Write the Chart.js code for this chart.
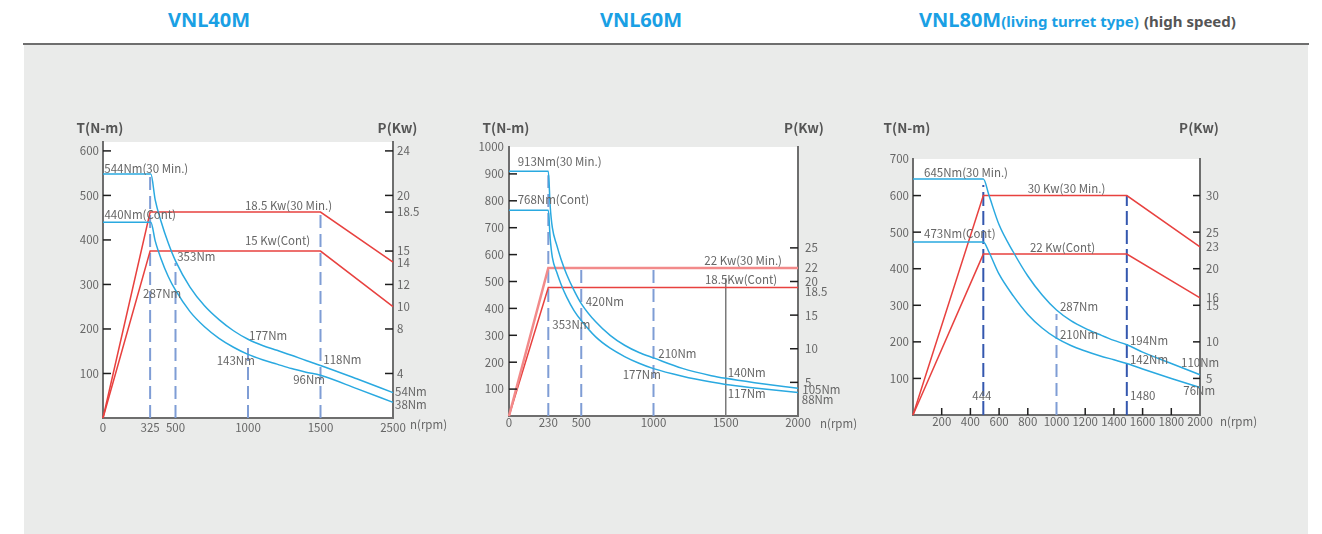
<!DOCTYPE html>
<html><head><meta charset="utf-8">
<script src="https://cdn.jsdelivr.net/npm/chart.js@4.4.1/dist/chart.umd.min.js"></script>
<style>
html,body{margin:0;padding:0;background:#fff;}
body{width:1322px;height:534px;position:relative;overflow:hidden;font-family:"Noto Sans",sans-serif;}
.panel{position:absolute;left:24px;top:45px;width:1284px;height:489px;background:#eaebea;}
.rule{position:absolute;left:23px;top:43px;width:1286px;height:2px;background:#6e6e6e;}
.title{position:absolute;top:6px;font-weight:700;font-size:20px;color:#1aa0e4;white-space:nowrap;line-height:28px;}
.title small{font-size:15px;}
.title .g{color:#555;}
canvas{position:absolute;}
</style></head>
<body>
<div class="rule"></div><div class="panel"></div>
<div class="title" style="left:109px;width:200px;text-align:center">VNL40M</div>
<div class="title" style="left:541px;width:200px;text-align:center">VNL60M</div>
<div class="title" style="left:919px">VNL80M<small>(living turret type)</small> <small class="g">(high speed)</small></div>
<canvas id="c40" width="420" height="330" style="left:40px;top:110px;width:420px;height:330px"></canvas>
<canvas id="c60" width="420" height="330" style="left:450px;top:110px;width:420px;height:330px"></canvas>
<canvas id="c80" width="420" height="330" style="left:860px;top:110px;width:420px;height:330px"></canvas>
<script>
// ================= DATA =================
const axisTitles = ['T(N-m)', 'P(Kw)', 'n(rpm)'];

// ---------- VNL40M ----------
const rpm40 = [0, 330, 360, 400, 450, 500, 600, 700, 800, 900, 1000, 1100, 1200, 1300, 1400, 1500, 1750, 2000];
const torqueMax40 = [548, 548, 490, 442, 393, 353, 294, 252, 221, 196, 177, 163, 152, 141, 129, 118, 88, 57];
const torqueCont40 = [440, 440, 398, 358, 318, 287, 239, 205, 179, 159, 143, 131, 121, 111, 103, 96, 66, 35];
const powerRpm40 = [0, 325, 1500, 2000];
const powerMax40 = [0, 18.5, 18.5, 14];
const powerCont40 = [0, 15, 15, 10];
const guideRpm40 = [325, 500, 1000, 1500];
const guideTop40 = [548, 348, 168, 462];
const xTicks40 = [0, 325, 500, 1000, 1500, 2000];
const xLabels40 = ['0', '325', '500', '1000', '1500', '2500'];
const yTicks40 = [100, 200, 300, 400, 500, 600];
const pTicks40 = [24, 20, 18.5, 15, 14, 12, 10, 8, 4];
const pMarked40 = [24, 20, 18.5, 15, 12, 8, 4];
const notes40 = [
  {text: '544Nm(30 Min.)', rpm: 9, nm: 561},
  {text: '440Nm(Cont)', rpm: 10, nm: 457},
  {text: '18.5 Kw(30 Min.)', rpm: 979, nm: 477},
  {text: '15 Kw(Cont)', rpm: 979, nm: 398},
  {text: '353Nm', rpm: 512, nm: 362},
  {text: '287Nm', rpm: 276, nm: 280},
  {text: '177Nm', rpm: 1007, nm: 186},
  {text: '143Nm', rpm: 784, nm: 130},
  {text: '118Nm', rpm: 1519, nm: 132},
  {text: '96Nm', rpm: 1312, nm: 87},
  {text: '54Nm', rpm: 2014, nm: 59},
  {text: '38Nm', rpm: 2014, nm: 31}
];

// ---------- VNL60M ----------
const rpm60 = [0, 272, 285, 300, 330, 360, 400, 450, 500, 600, 700, 800, 900, 1000, 1200, 1400, 1500, 1700, 2000];
const torqueMax60 = [910, 910, 780, 700, 636, 583, 525, 467, 418, 350, 300, 263, 236, 216, 177, 150, 140, 124, 103];
const torqueCont60 = [765, 765, 660, 590, 535, 490, 441, 392, 355, 294, 252, 221, 196, 176, 148, 126, 117, 104, 87];
const powerRpm60 = [0, 272, 2000];
const powerMax60 = [0, 22, 22];
const powerCont60 = [0, 19.1, 19.1];
const guideRpm60 = [272, 500, 1000, 1500];
const guideTop60 = [895, 549, 549, 512];
const xTicks60 = [0, 272, 500, 1000, 1500, 2000];
const xLabels60 = ['0', '230', '500', '1000', '1500', '2000'];
const yTicks60 = [100, 200, 300, 400, 500, 600, 700, 800, 900, 1000];
const yMarked60 = [100, 200, 300, 400, 500, 600, 700, 800, 900];
const pTicks60 = [25, 22, 20, 18.5, 15, 10, 5];
const pMarked60 = [25, 20, 15, 10, 5];
const notes60 = [
  {text: '913Nm(30 Min.)', rpm: 60, nm: 945},
  {text: '768Nm(Cont)', rpm: 60, nm: 803},
  {text: '22 Kw(30 Min.)', rpm: 1352, nm: 577},
  {text: '18.5Kw(Cont)', rpm: 1356, nm: 508},
  {text: '420Nm', rpm: 531, nm: 425},
  {text: '353Nm', rpm: 300, nm: 338},
  {text: '210Nm', rpm: 1033, nm: 233},
  {text: '177Nm', rpm: 787, nm: 155},
  {text: '140Nm', rpm: 1513, nm: 162},
  {text: '117Nm', rpm: 1513, nm: 84},
  {text: '105Nm', rpm: 2030, nm: 97},
  {text: '88Nm', rpm: 2026, nm: 62}
];

// ---------- VNL80M ----------
const rpm80 = [0, 490, 530, 600, 700, 800, 900, 1000, 1100, 1200, 1300, 1400, 1490, 1600, 1800, 2000];
const torqueMax80 = [645, 645, 600, 520, 445, 380, 328, 287, 258, 237, 220, 204, 192, 172, 141, 110];
const torqueCont80 = [473, 473, 445, 385, 325, 275, 238, 210, 190, 175, 162, 151, 141, 126, 100, 75];
const powerRpm80 = [0, 490, 1490, 2000];
const powerMax80 = [0, 30, 30, 23];
const powerCont80 = [0, 22, 22, 16];
const guideRpm80 = [490, 1000, 1490];
const guideTop80 = [629, 276, 600];
const xTicks80 = [200, 400, 600, 800, 1000, 1200, 1400, 1600, 1800, 2000];
const xLabels80 = ['200', '400', '600', '800', '1000', '1200', '1400', '1600', '1800', '2000'];
const xMarked80 = [200, 400, 600, 800, 1200, 1400, 1600, 1800];
const yTicks80 = [100, 200, 300, 400, 500, 600, 700];
const yMarked80 = [100, 200, 300, 400, 500, 600];
const pTicks80 = [30, 25, 23, 20, 16, 15, 10, 5];
const pMarked80 = [30, 25, 20, 15, 10, 5];
const notes80 = [
  {text: '645Nm(30 Min.)', rpm: 77, nm: 664},
  {text: '473Nm(Cont)', rpm: 77, nm: 497},
  {text: '30 Kw(30 Min.)', rpm: 799, nm: 618},
  {text: '22 Kw(Cont)', rpm: 815, nm: 459},
  {text: '287Nm', rpm: 1024, nm: 296},
  {text: '210Nm', rpm: 1024, nm: 221},
  {text: '194Nm', rpm: 1512, nm: 203},
  {text: '142Nm', rpm: 1512, nm: 152},
  {text: '110Nm', rpm: 1868, nm: 144},
  {text: '76Nm', rpm: 1884, nm: 68},
  {text: '444', rpm: 413, nm: 52},
  {text: '1480', rpm: 1512, nm: 52}
];

// ================= STYLE =================
const BLUE = '#2aa9e0', RED = '#e8413f', PINK = '#f28a8a';
const DASH = '#7f9dd5', DASH_DARK = '#3457ae', GUIDE_SOLID = '#7a7a7a';
const AXIS = '#6e6e6e', TXT = '#666666', MARK = '#1e1e1e', TITLE = '#555555';
const FONT = '"Noto Sans CJK SC", "Noto Sans", sans-serif';
const TICK_FONT = {family: FONT, size: 11.5};

function pts(xs, ys) { return xs.map((x, i) => ({x: x, y: ys[i]})); }

function lineSet(data, color, width, axis, smooth, dash) {
  return {
    data: data, borderColor: color, borderWidth: width, yAxisID: axis,
    pointRadius: 0, fill: false, clip: false,
    tension: 0, cubicInterpolationMode: smooth ? 'monotone' : 'default',
    borderDash: dash || []
  };
}

function build(spec) {
  const L = spec.layout;
  const datasets = [
    lineSet(pts(spec.rpm, spec.tMax), BLUE, 1.5, 'y', true),
    lineSet(pts(spec.rpm, spec.tCont), BLUE, 1.5, 'y', true),
    lineSet(pts(spec.pRpm, spec.pMax), L.pMaxColor || RED, L.pMaxWidth || 1.5, 'y2'),
    lineSet(pts(spec.pRpm, spec.pCont), RED, 1.5, 'y2')
  ];
  spec.gRpm.forEach((x, i) => {
    const st = L.guideStyles[i];
    datasets.push(lineSet(pts([x, x], [0, spec.gTop[i]]), st.color, st.width, 'y', false, st.dash));
  });

  const fixedTicks = vals => (s => { s.ticks = vals.map(v => ({value: v})); });

  const decor = {
    id: 'decor',
    beforeDraw(chart) {
      const {ctx, chartArea: a} = chart;
      ctx.save();
      ctx.fillStyle = '#ffffff';
      ctx.fillRect(a.left, a.top, a.right - a.left, a.bottom - a.top);
      ctx.restore();
    },
    afterDatasetsDraw(chart) {
      const {ctx, chartArea: a, scales} = chart;
      ctx.save();
      ctx.strokeStyle = MARK; ctx.lineWidth = 1.5;
      spec.marks.forEach(m => {
        const s = scales[m.axis];
        m.values.forEach(v => {
          const p = s.getPixelForValue(v);
          ctx.beginPath();
          if (m.axis === 'x') { ctx.moveTo(p, a.bottom); ctx.lineTo(p, a.bottom - m.len); }
          else if (m.axis === 'y') { ctx.moveTo(a.left, p); ctx.lineTo(a.left + m.len, p); }
          else { ctx.moveTo(a.right, p); ctx.lineTo(a.right - m.len, p); }
          ctx.stroke();
        });
      });
      ctx.fillStyle = TXT;
      ctx.font = '11.5px ' + FONT;
      ctx.textBaseline = 'middle';
      ctx.textAlign = 'left';
      spec.notes.forEach(n => {
        ctx.fillText(n.text, scales.x.getPixelForValue(n.rpm), scales.y.getPixelForValue(n.nm));
      });
      ctx.fillText(axisTitles[2], a.right + L.rpmDx, a.bottom + L.rpmDy);
      ctx.font = 'bold 13.5px ' + FONT;
      ctx.fillStyle = TITLE;
      ctx.textAlign = 'center';
      ctx.fillText(axisTitles[0], a.left + L.tDx, L.titleY);
      ctx.fillText(axisTitles[1], a.right + L.pDx, L.titleY);
      ctx.restore();
    }
  };

  const axisBase = (pad) => ({
    grid: {display: false, drawTicks: false},
    border: {display: true, color: AXIS, width: 2},
    ticks: {autoSkip: false, maxRotation: 0, color: TXT, font: TICK_FONT, padding: pad}
  });

  const x = axisBase(L.xPad);
  Object.assign(x, {type: 'linear', min: 0, max: 2000,
    afterBuildTicks: fixedTicks(spec.xTicks), afterFit: s => { s.height = L.xH; }});
  x.ticks.callback = (v, i) => spec.xLabels[i];

  const y = axisBase(L.yPad);
  Object.assign(y, {type: 'linear', position: 'left', min: 0, max: L.yMax,
    afterBuildTicks: fixedTicks(spec.yTicks), afterFit: s => { s.width = L.yW; }});
  y.ticks.callback = (v) => String(v);

  const y2 = axisBase(L.y2Pad);
  Object.assign(y2, {type: 'linear', position: 'right', min: 0, max: L.y2Max,
    afterBuildTicks: fixedTicks(spec.pTicks), afterFit: s => { s.width = L.y2W; }});
  y2.ticks.callback = (v) => String(v);

  return new Chart(document.getElementById(spec.canvas), {
    type: 'line',
    data: {datasets: datasets},
    options: {
      responsive: false, animation: false, events: [],
      layout: {padding: {top: L.padTop, left: 0, right: 0, bottom: 0}},
      plugins: {legend: {display: false}, tooltip: {enabled: false}},
      scales: {x: x, y: y, y2: y2}
    },
    plugins: [decor]
  });
}

const dashLight = {color: DASH, width: 2, dash: [13, 6]};
const dashDark = {color: DASH_DARK, width: 2, dash: [14, 5]};
const solidGuide = {color: GUIDE_SOLID, width: 1.5, dash: []};

build({
  canvas: 'c40', rpm: rpm40, tMax: torqueMax40, tCont: torqueCont40,
  pRpm: powerRpm40, pMax: powerMax40, pCont: powerCont40,
  gRpm: guideRpm40, gTop: guideTop40,
  xTicks: xTicks40, xLabels: xLabels40, yTicks: yTicks40, pTicks: pTicks40,
  marks: [{axis: 'y', values: yTicks40, len: 8}, {axis: 'y2', values: pMarked40, len: 8}],
  notes: notes40,
  layout: {yMax: 620, y2Max: 24.8, yW: 63, y2W: 67, padTop: 32, xH: 22,
    xPad: 3, yPad: 4, y2Pad: 4, tDx: -3, pDx: 4.5, titleY: 18.3, rpmDx: 17, rpmDy: 7,
    guideStyles: [dashLight, dashLight, dashLight, dashLight]}
});

build({
  canvas: 'c60', rpm: rpm60, tMax: torqueMax60, tCont: torqueCont60,
  pRpm: powerRpm60, pMax: powerMax60, pCont: powerCont60,
  gRpm: guideRpm60, gTop: guideTop60,
  xTicks: xTicks60, xLabels: xLabels60, yTicks: yTicks60, pTicks: pTicks60,
  marks: [{axis: 'y', values: yMarked60, len: 8}, {axis: 'y2', values: pMarked60, len: 8}],
  notes: notes60,
  layout: {yMax: 1000, y2Max: 40, yW: 59, y2W: 72, padTop: 37, xH: 24,
    xPad: 0, yPad: 5, y2Pad: 7, tDx: -3, pDx: 6, titleY: 18.3, rpmDx: 22, rpmDy: 7.3,
    pMaxColor: PINK, pMaxWidth: 2.5,
    guideStyles: [dashLight, dashLight, dashLight, solidGuide]}
});

build({
  canvas: 'c80', rpm: rpm80, tMax: torqueMax80, tCont: torqueCont80,
  pRpm: powerRpm80, pMax: powerMax80, pCont: powerCont80,
  gRpm: guideRpm80, gTop: guideTop80,
  xTicks: xTicks80, xLabels: xLabels80, yTicks: yTicks80, pTicks: pTicks80,
  marks: [{axis: 'x', values: xMarked80, len: 7}, {axis: 'y', values: yMarked80, len: 8}, {axis: 'y2', values: pMarked80, len: 7}],
  notes: notes80,
  layout: {yMax: 700, y2Max: 35, yW: 53, y2W: 80, padTop: 49, xH: 25,
    xPad: 0, yPad: 4, y2Pad: 6, tDx: -6, pDx: -1, titleY: 18.3, rpmDx: 20, rpmDy: 6.7,
    guideStyles: [dashDark, dashLight, dashDark]}
});
</script>
</body></html>
